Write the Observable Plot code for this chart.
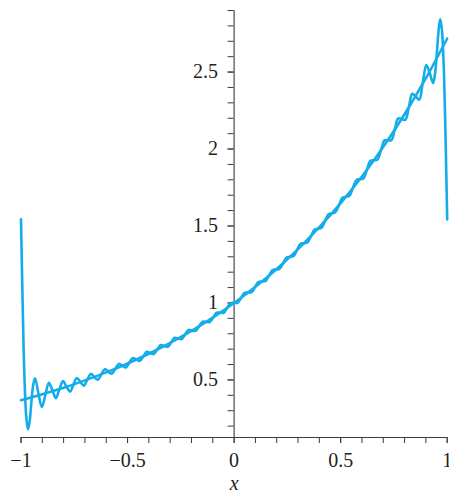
<!DOCTYPE html>
<html><head><meta charset="utf-8">
<script src="https://cdn.jsdelivr.net/npm/d3@7"></script>
<script src="https://cdn.jsdelivr.net/npm/@observablehq/plot@0.6"></script>
<style>body{margin:0;background:#fff;}</style>
</head><body><div id="chart"></div>
<script>
// smooth curve e^x
const expX = [-1,-0.9,-0.8,-0.7,-0.6,-0.5,-0.4,-0.3,-0.2,-0.1,0,0.1,0.2,0.3,0.4,0.5,0.6,0.7,0.8,0.9,1];
const expY = [0.368,0.407,0.449,0.497,0.549,0.607,0.670,0.741,0.819,0.905,1,1.105,1.221,1.350,1.492,1.649,1.822,2.014,2.226,2.460,2.718];

// oscillating partial sum
const fourierX = [-1,-0.992,-0.984,-0.975,-0.967,-0.959,-0.951,-0.943,-0.934,-0.918,-0.902,-0.885,-0.869,-0.852,-0.836,-0.820,-0.803,-0.787,-0.770,-0.754,-0.738,-0.721,-0.705,-0.689,-0.672,-0.656,-0.639,-0.623,-0.607,-0.590,-0.574,-0.557,-0.541,-0.525,-0.508,-0.492,-0.475,-0.459,-0.443,-0.426,-0.410,-0.393,-0.377,-0.361,-0.344,-0.328,-0.311,-0.295,-0.279,-0.262,-0.246,-0.230,-0.213,-0.197,-0.180,-0.164,-0.148,-0.131,-0.115,-0.098,-0.082,-0.066,-0.049,-0.033,-0.016,0,0.016,0.033,0.049,0.066,0.082,0.098,0.115,0.131,0.148,0.164,0.180,0.197,0.213,0.230,0.246,0.262,0.279,0.295,0.311,0.328,0.344,0.361,0.377,0.393,0.410,0.426,0.443,0.459,0.475,0.492,0.508,0.525,0.541,0.557,0.574,0.590,0.607,0.623,0.639,0.656,0.672,0.689,0.705,0.721,0.738,0.754,0.770,0.787,0.803,0.820,0.836,0.852,0.869,0.885,0.902,0.918,0.934,0.943,0.951,0.959,0.967,0.975,0.984,0.992,1];
const fourierY = [1.543,0.978,0.524,0.255,0.178,0.236,0.359,0.466,0.511,0.410,0.324,0.407,0.482,0.430,0.382,0.438,0.492,0.457,0.424,0.469,0.513,0.486,0.463,0.502,0.539,0.519,0.501,0.536,0.570,0.554,0.540,0.573,0.604,0.592,0.581,0.612,0.642,0.632,0.623,0.653,0.683,0.675,0.668,0.697,0.727,0.721,0.715,0.745,0.774,0.769,0.765,0.795,0.825,0.821,0.819,0.849,0.879,0.877,0.876,0.906,0.937,0.937,0.936,0.968,0.999,1.000,1.001,1.033,1.066,1.068,1.070,1.103,1.137,1.140,1.143,1.178,1.214,1.217,1.221,1.258,1.295,1.300,1.305,1.343,1.383,1.388,1.393,1.434,1.476,1.482,1.488,1.532,1.576,1.583,1.589,1.635,1.683,1.690,1.696,1.746,1.798,1.804,1.809,1.864,1.922,1.927,1.930,1.991,2.055,2.057,2.057,2.127,2.199,2.195,2.189,2.272,2.359,2.342,2.321,2.429,2.546,2.494,2.428,2.490,2.615,2.759,2.845,2.779,2.524,2.089,1.543];

const xDomain = [-1, 1];
const yDomain = [0.126, 2.9];
const xMinorTicks = [-1,-0.9,-0.8,-0.7,-0.6,-0.5,-0.4,-0.3,-0.2,-0.1,0,0.1,0.2,0.3,0.4,0.5,0.6,0.7,0.8,0.9,1];
const xMajorTicks = [-1,-0.5,0,0.5,1];
const xTickLabels = ["\u22121","\u22120.5","0","0.5","1"];
const yMinorTicks = [0.2,0.3,0.4,0.5,0.6,0.7,0.8,0.9,1,1.1,1.2,1.3,1.4,1.5,1.6,1.7,1.8,1.9,2,2.1,2.2,2.3,2.4,2.5,2.6,2.7,2.8,2.9];
const yMajorTicks = [0.5,1,1.5,2,2.5];
const yTickLabels = ["0.5","1","1.5","2","2.5"];
const xAxisTitle = "x";

const curveColor = "#14ade9";
const axisColor = "#3a3a3a";
const textColor = "#231f20";

const expData = expX.map((x, i) => ({x, y: expY[i]}));
const fourierData = fourierX.map((x, i) => ({x, y: fourierY[i]}));

const chart = Plot.plot({
  width: 449,
  height: 492,
  marginLeft: 20.5,
  marginRight: 2.3,
  marginTop: 10,
  marginBottom: 55,
  x: {domain: xDomain},
  y: {domain: yDomain},
  style: {fontFamily: "'Liberation Serif', 'DejaVu Serif', serif", fontSize: "20px", color: textColor, background: "#fff"},
  marks: [
    Plot.ruleY([yDomain[0]], {stroke: axisColor, strokeWidth: 1.1}),
    Plot.ruleX([0], {stroke: axisColor, strokeWidth: 1.1}),
    Plot.axisX(xMinorTicks, {anchor: "bottom", tickSize: 6, stroke: axisColor, tickFormat: () => "", label: null}),
    Plot.axisX(xMajorTicks, {anchor: "bottom", tickSize: 6, tickPadding: 9, stroke: axisColor, fill: textColor, fontSize: 20, tickFormat: d => xTickLabels[xMajorTicks.indexOf(d)], label: null}),
    Plot.axisY(yMinorTicks, {anchor: "left", x: 0, tickSize: 6, stroke: axisColor, tickFormat: () => "", label: null}),
    Plot.axisY(yMajorTicks, {anchor: "left", x: 0, tickSize: 6, tickPadding: 10, stroke: axisColor, fill: textColor, fontSize: 20, tickFormat: d => yTickLabels[yMajorTicks.indexOf(d)], label: null}),
    Plot.line(expData, {x: "x", y: "y", stroke: curveColor, strokeWidth: 2.6, curve: "catmull-rom"}),
    Plot.line(fourierData, {x: "x", y: "y", stroke: curveColor, strokeWidth: 2.6, curve: "catmull-rom"}),
    Plot.text([xAxisTitle], {x: () => 0, text: d => d, frameAnchor: "bottom", lineAnchor: "bottom", dy: 52, fontStyle: "italic", fontSize: 20, fill: textColor})
  ]
});
document.getElementById("chart").appendChild(chart);
</script>
</body></html>
